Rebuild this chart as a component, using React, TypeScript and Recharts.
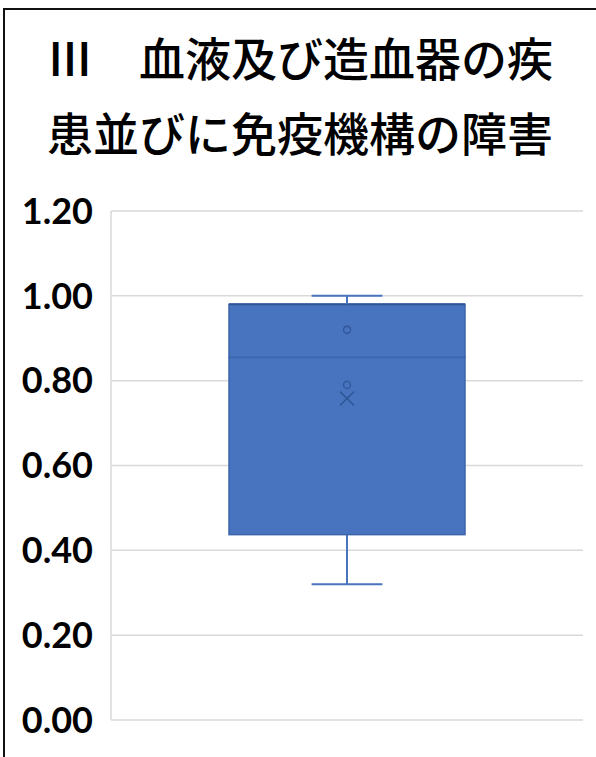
import React from 'react'
import { ComposedChart, Bar, Scatter, XAxis, YAxis, CartesianGrid } from 'recharts'

const categories = ['Ⅲ']
const minValues = [0.32]
const q1Values = [0.437]
const medianValues = [0.855]
const q3Values = [0.98]
const maxValues = [1.0]
const meanValues = [0.758]
const innerPointA = [0.92]
const innerPointB = [0.79]
const yTicks = [0, 0.2, 0.4, 0.6, 0.8, 1.0, 1.2]

const titleLines = ['Ⅲ　血液及び造血器の疾', '患並びに免疫機構の障害']

const BOX = '#4773BF'
const EDGE = '#3D64AB'
const DARK = '#2F5597'

const data = categories.map((name, i) => ({
  name,
  base: minValues[i],
  lowWhisker: q1Values[i] - minValues[i],
  lowBox: medianValues[i] - q1Values[i],
  highBox: q3Values[i] - medianValues[i],
  highWhisker: maxValues[i] - q3Values[i],
  pointA: innerPointA[i],
  pointB: innerPointB[i],
  mean: meanValues[i],
}))

const Empty = () => null

const LowWhisker = (p: any) => {
  const cx = p.x + p.width / 2
  const cap = p.width * 0.3
  return (
    <g>
      <line x1={cx} x2={cx} y1={p.y} y2={p.y + p.height} stroke={BOX} strokeWidth={2} />
      <line x1={cx - cap / 2} x2={cx + cap / 2} y1={p.y + p.height} y2={p.y + p.height} stroke={BOX} strokeWidth={2} />
    </g>
  )
}

const HighWhisker = (p: any) => {
  const cx = p.x + p.width / 2
  const cap = p.width * 0.3
  return (
    <g>
      <line x1={cx} x2={cx} y1={p.y} y2={p.y + p.height} stroke={BOX} strokeWidth={2} />
      <line x1={cx - cap / 2} x2={cx + cap / 2} y1={p.y} y2={p.y} stroke={BOX} strokeWidth={2} />
    </g>
  )
}

const BoxPart = (p: any) => (
  <rect x={p.x} y={p.y} width={p.width} height={p.height} fill={BOX} stroke={EDGE} strokeWidth={1.5} />
)

const MedianBox = (p: any) => (
  <g>
    <rect x={p.x} y={p.y} width={p.width} height={p.height} fill={BOX} stroke={EDGE} strokeWidth={1.5} />
    <line x1={p.x} x2={p.x + p.width} y1={p.y} y2={p.y} stroke={DARK} strokeWidth={2} />
  </g>
)

const Ring = (p: any) => <circle cx={p.cx} cy={p.cy} r={3.5} fill="none" stroke={DARK} strokeWidth={1.3} />

const Cross = (p: any) => (
  <g stroke={DARK} strokeWidth={1.5}>
    <line x1={p.cx - 7} x2={p.cx + 7} y1={p.cy - 7} y2={p.cy + 7} />
    <line x1={p.cx - 7} x2={p.cx + 7} y1={p.cy + 7} y2={p.cy - 7} />
  </g>
)

export default function App() {
  return (
    <div style={{ position: 'relative', width: 596, height: 757, background: '#fff', overflow: 'hidden' }}>
      <style>{'body{margin:0}'}</style>
      {titleLines.map((t, i) => (
        <div
          key={i}
          style={{
            position: 'absolute', left: 0, width: 600, top: 28 + i * 75, textAlign: 'center',
            fontFamily: '"Noto Sans CJK JP"', fontSize: 46, fontWeight: 500, lineHeight: '56px', color: '#000', whiteSpace: 'pre',
          }}
        >
          {t}
        </div>
      ))}
      <div style={{ position: 'absolute', left: 0, top: 0 }}>
        <ComposedChart width={596} height={757} data={data} margin={{ top: 211, right: 13, bottom: 37, left: 0 }} barCategoryGap="25%">
          <CartesianGrid horizontal vertical={false} stroke="#d9d9d9" strokeWidth={1.5} />
          <XAxis dataKey="name" hide allowDuplicatedCategory={false} />
          <YAxis
            domain={[0, 1.2]}
            ticks={yTicks}
            width={111}
            tickFormatter={(v: number) => v.toFixed(2)}
            tickLine={false}
            tickSize={8}
            tickMargin={10}
            axisLine={{ stroke: '#d9d9d9', strokeWidth: 1.5 }}
            tick={{ fill: '#000', fontSize: 36, fontWeight: 700, fontFamily: 'Lato' }}
          />
          <Bar dataKey="base" stackId="b" shape={Empty} isAnimationActive={false} />
          <Bar dataKey="lowWhisker" stackId="b" shape={LowWhisker} isAnimationActive={false} />
          <Bar dataKey="lowBox" stackId="b" shape={BoxPart} isAnimationActive={false} />
          <Bar dataKey="highBox" stackId="b" shape={MedianBox} isAnimationActive={false} />
          <Bar dataKey="highWhisker" stackId="b" shape={HighWhisker} isAnimationActive={false} />
          <Scatter dataKey="pointA" shape={Ring} isAnimationActive={false} />
          <Scatter dataKey="pointB" shape={Ring} isAnimationActive={false} />
          <Scatter dataKey="mean" shape={Cross} isAnimationActive={false} />
        </ComposedChart>
      </div>
      <div style={{ position: 'absolute', left: 3, top: 8, width: 2, height: 760, background: '#111', zIndex: 5 }} />
      <div style={{ position: 'absolute', left: 3, top: 8, width: 600, height: 1.5, background: '#111', zIndex: 5 }} />
    </div>
  )
}
